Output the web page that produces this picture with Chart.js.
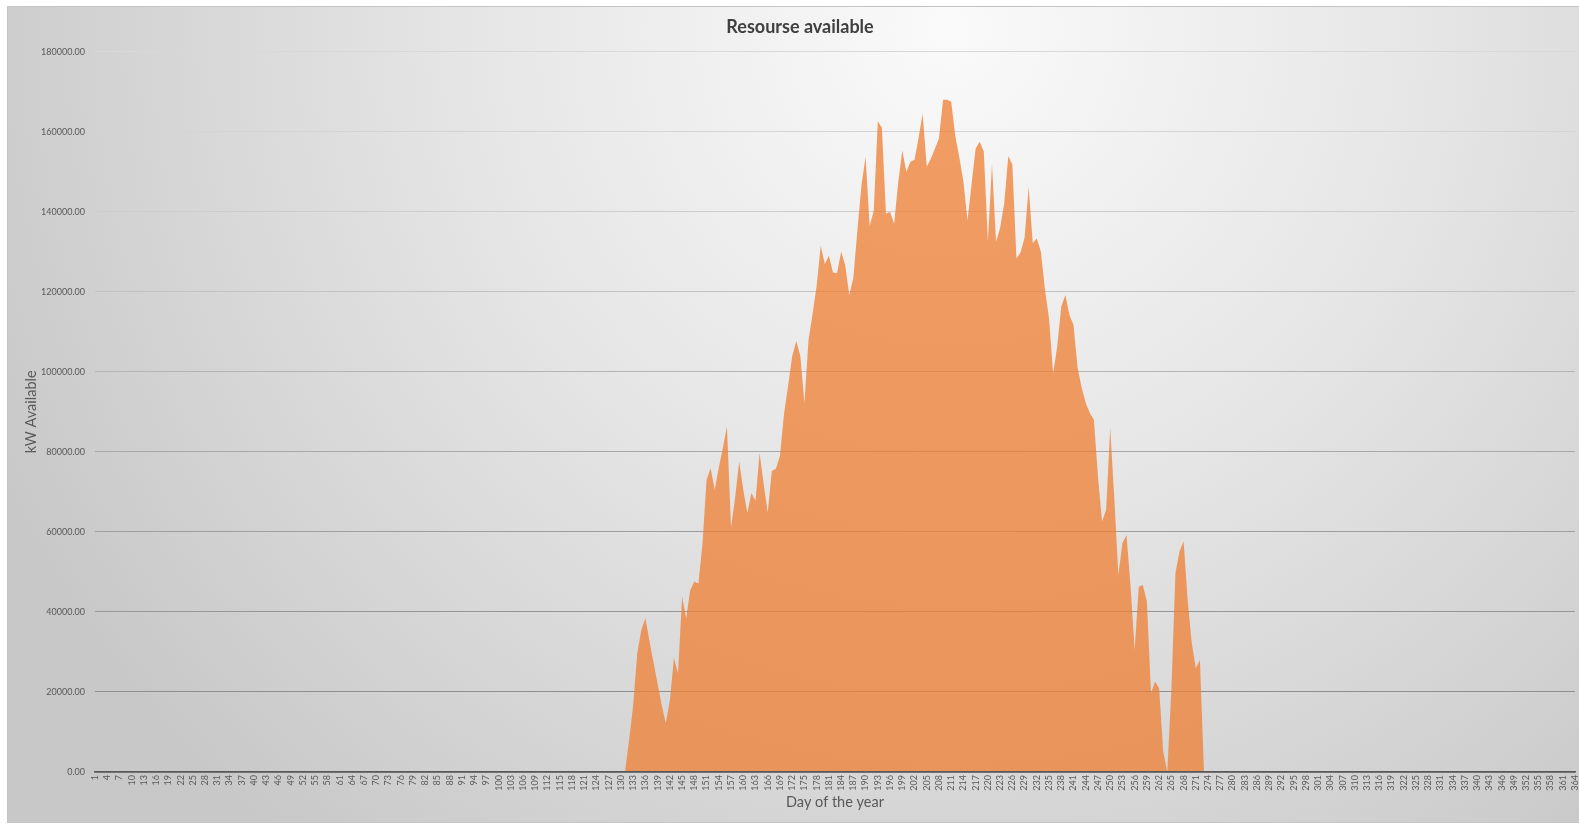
<!DOCTYPE html>
<html>
<head>
<meta charset="utf-8">
<title>Resourse available</title>
<script src="https://cdn.jsdelivr.net/npm/chart.js@4.4.1/dist/chart.umd.min.js"></script>
<style>
  html, body { margin: 0; padding: 0; background: #ffffff; overflow: hidden; }
  canvas { display: block; }
</style>
</head>
<body>
<canvas id="resourceChart" width="1579" height="825"></canvas>
<script>
// ---- data -------------------------------------------------------------
// Category axis: day of the year, 1 .. 364
const dayLabels = [];
for (let d = 1; d <= 364; d++) dayLabels.push(String(d));

// Value axis ticks (kW)
const yTickValues = [0, 20000, 40000, 60000, 80000, 100000, 120000, 140000, 160000, 180000];

// Available power (kW) during the season; every other day is 0
const firstSeasonDay = 131;
// May 11 .. May 31 (days 131-151)
const mayKw = [0, 8000, 16700, 29700, 35500, 38400, 32700, 27300, 22000, 16700,
               12200, 18000, 28500, 24700, 43800, 38400, 45500, 47600, 47100, 57000,
               73000];
// June (days 152-181)
const juneKw = [75900, 70500, 76000, 81000, 86300, 61100, 68500, 77600, 70500, 64700,
                69700, 67800, 79700, 72000, 64800, 75200, 75800, 79000, 89500, 96500,
                103900, 107700, 103900, 92200, 107900, 114500, 121500, 131500, 126900, 129000];
// July (days 182-212)
const julyKw = [124800, 124600, 130000, 126700, 119100, 123500, 135400, 146700, 153700, 136400,
                140200, 162600, 161000, 139500, 140000, 137000, 147200, 155300, 150000, 152500,
                153000, 158500, 164500, 151200, 153200, 155700, 158300, 168000, 168000, 167500,
                159000];
// August (days 213-243)
const augustKw = [153500, 147500, 137800, 147000, 155800, 157500, 155000, 132500, 152000, 132500,
                  136000, 142000, 153900, 151800, 128300, 129800, 133500, 146200, 132200, 133300,
                  130000, 120500, 113300, 99500, 106300, 116300, 119200, 114200, 111700, 101000,
                  96000];
// September (days 244-273)
const septemberKw = [92200, 89700, 88000, 73800, 62600, 65500, 85900, 68400, 49200, 57200,
                     59200, 46300, 30500, 46300, 46700, 42600, 19700, 22600, 20900, 5100,
                     0, 20500, 49700, 55100, 57600, 43000, 32200, 25900, 28000, 0];

const seasonKw = [...mayKw, ...juneKw, ...julyKw, ...augustKw, ...septemberKw];
const kwAvailable = dayLabels.map((_, i) => {
  const k = i + 1 - firstSeasonDay;
  return (k >= 0 && k < seasonKw.length) ? seasonKw[k] : 0;
});

// ---- styling helpers --------------------------------------------------
const FONT = 'Lato, "Liberation Sans", sans-serif';
const TEXT_GREY = '#595959';

// gridline shade per value tick (lighter towards the top of the plot)
const gridShades = {
  0: '#8c8c8c', 20000: '#8f8f8f', 40000: '#969696', 60000: '#9e9e9e', 80000: '#a8a8a8',
  100000: '#b4b4b4', 120000: '#c2c2c2', 140000: '#cdcdcd', 160000: '#d4d4d4', 180000: '#d8d8d8'
};

// frame with a soft radial grey gradient behind the whole chart
const framePlugin = {
  id: 'frame',
  beforeDraw(chart) {
    const { ctx, width, height } = chart;
    ctx.save();
    ctx.fillStyle = '#ffffff';
    ctx.fillRect(0, 0, width, height);
    const g = ctx.createRadialGradient(950, 30, 0, 950, 30, 1050);
    g.addColorStop(0, '#fafafa');
    g.addColorStop(0.45, '#e6e6e6');
    g.addColorStop(1, '#c8c8c8');
    ctx.fillStyle = g;
    ctx.fillRect(7, 6, width - 7, 817);
    ctx.strokeStyle = '#c4c4c4';
    ctx.lineWidth = 1;
    ctx.strokeRect(7.5, 6.5, width, 816);
    ctx.restore();
  },
  afterLayout(chart) {
    // the frame continues past the right edge, so centre the title on x = 800
    const tb = chart.titleBlock;
    if (tb) { tb.left = 25; tb.right = 1575; }
  }
};

new Chart(document.getElementById('resourceChart'), {
  type: 'line',
  data: {
    labels: dayLabels,
    datasets: [{
      label: 'kW Available',
      data: kwAvailable,
      fill: 'origin',
      backgroundColor: 'rgba(237, 125, 49, 0.75)',
      borderWidth: 0,
      borderColor: 'rgba(0,0,0,0)',
      pointRadius: 0,
      tension: 0
    }]
  },
  options: {
    responsive: false,
    devicePixelRatio: 1,
    animation: false,
    layout: { padding: { left: 7, top: 6, right: 4, bottom: 2 } },
    plugins: {
      legend: { display: false },
      tooltip: { enabled: false },
      title: {
        display: true,
        text: 'Resourse available',
        color: '#404040',
        font: { family: FONT, size: 18, weight: 'bold' },
        padding: { top: 10, bottom: 14 }
      }
    },
    scales: {
      x: {
        type: 'category',
        offset: false,
        grid: { display: false, drawTicks: false },
        border: { display: true, color: TEXT_GREY, width: 1.5, z: 1 },
        ticks: {
          autoSkip: false,
          minRotation: 90,
          maxRotation: 90,
          padding: 3,
          color: TEXT_GREY,
          font: { family: FONT, size: 9 },
          callback: (v, i) => (i % 3 === 0 ? dayLabels[i] : '')
        },
        title: {
          display: true,
          text: 'Day of the year',
          color: TEXT_GREY,
          font: { family: FONT, size: 14.5 },
          padding: { top: 0, bottom: 12 }
        },
        afterFit(scale) { scale.height = 51; scale.paddingLeft = 0; scale.paddingRight = 0; }
      },
      y: {
        min: 0,
        max: 180000,
        afterBuildTicks(scale) { scale.ticks = yTickValues.map(v => ({ value: v })); },
        grid: {
          drawTicks: false,
          lineWidth: 1,
          color: ctx => gridShades[ctx.tick ? ctx.tick.value : 0] || '#c8c8c8'
        },
        border: { display: false },
        ticks: {
          padding: 10,
          color: TEXT_GREY,
          font: { family: FONT, size: 9 },
          callback: v => Number(v).toFixed(2)
        },
        title: {
          display: true,
          text: 'kW Available',
          color: TEXT_GREY,
          font: { family: FONT, size: 14.5 },
          padding: { top: 16, bottom: 0 }
        },
        afterFit(scale) { scale.width = 88; scale.paddingTop = 0; scale.paddingBottom = 0; }
      }
    }
  },
  plugins: [framePlugin]
});
</script>
</body>
</html>
